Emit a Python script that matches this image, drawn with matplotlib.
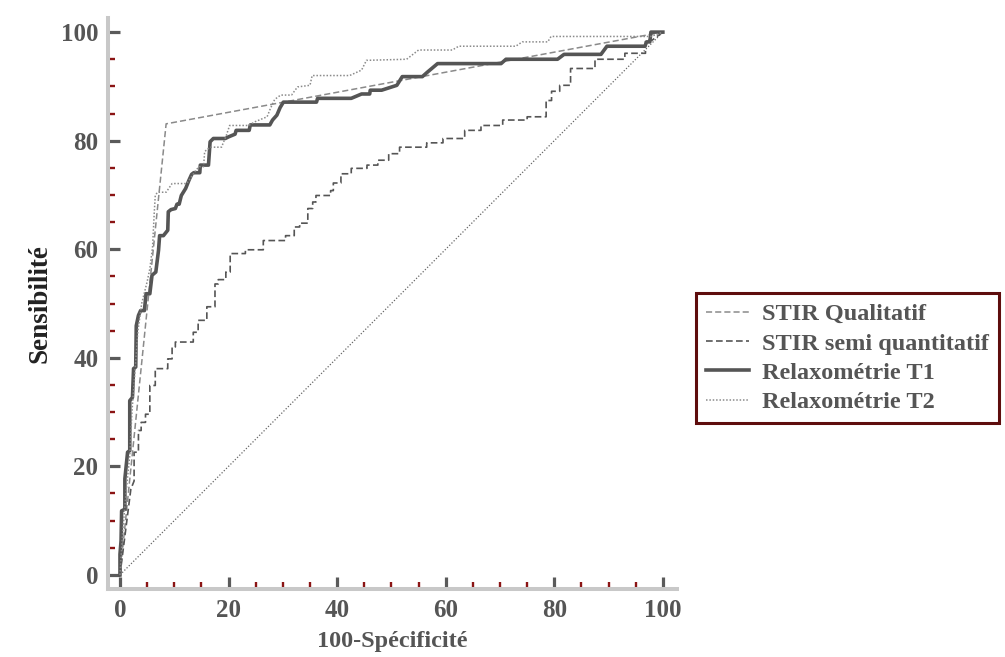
import matplotlib
matplotlib.use("Agg")
import matplotlib.pyplot as plt
from matplotlib.ticker import MultipleLocator

plt.rcParams['font.family'] = ['Liberation Serif', 'DejaVu Serif']
plt.rcParams['font.weight'] = 'bold'

# ---- data ----
qual_x = [0, 8.5, 100]
qual_y = [0, 83.1, 100]

semi_x = [0, 2.0, 2.6, 2.6, 3.4, 3.4, 3.9, 3.9, 4.7, 4.7, 5.5, 5.5, 6.5, 6.5, 8.8, 8.8, 9.6, 9.6,
          10.2, 10.2, 13.5, 13.5, 14.4, 14.4, 16.0, 16.0, 17.5, 17.5, 18.1, 18.1, 19.5, 19.5, 20.3, 20.3,
          23.1, 23.1, 26.4, 26.4, 30.5, 30.5, 32.1, 32.1, 33.1, 33.1, 34.6, 34.6, 35.5, 35.5, 36.1, 36.1,
          38.8, 38.8, 39.3, 39.3, 40.7, 40.7, 42.6, 42.6, 45.5, 45.5, 47.5, 47.5, 49.5, 49.5, 51.5, 51.5,
          56.5, 56.5, 59.5, 59.5, 63.5, 63.5, 66.5, 66.5, 70.5, 70.5, 75.0, 75.0, 78.5, 78.5, 79.5, 79.5,
          81.0, 81.0, 83.0, 83.0, 87.5, 87.5, 93.0, 93.0, 96.8, 96.8, 98.0, 100]
semi_y = [0, 15.8, 17.3, 22.6, 22.6, 26.6, 26.6, 28.1, 28.1, 29.6, 29.6, 34.9, 34.9, 38.0, 38.0, 39.8, 39.8, 42.0,
          42.0, 42.9, 42.9, 44.7, 44.7, 46.9, 46.9, 49.4, 49.4, 53.6, 53.6, 54.4, 54.4, 55.8, 55.8, 59.2,
          59.2, 59.9, 59.9, 61.6, 61.6, 62.5, 62.5, 64.1, 64.1, 64.8, 64.8, 67.5, 67.5, 68.7, 68.7, 69.9,
          69.9, 70.8, 70.8, 72.2, 72.2, 73.9, 73.9, 74.9, 74.9, 75.5, 75.5, 76.4, 76.4, 77.6, 77.6, 78.8,
          78.8, 79.6, 79.6, 80.4, 80.4, 81.9, 81.9, 82.8, 82.8, 83.8, 83.8, 84.4, 84.4, 87.4, 87.4, 89.1,
          89.1, 90.2, 90.2, 93.3, 93.3, 95.0, 95.0, 96.1, 96.1, 98.5, 98.5, 100]

t1_x = [0, 0, 0.2, 0.3, 0.9, 0.9, 1.4, 1.8, 1.8, 2.3, 2.5, 2.9, 3.0, 3.4, 3.8, 4.5, 4.8, 5.5, 5.9, 6.6,
        7.1, 7.3, 8.0, 8.8, 8.9, 9.4, 10.2, 10.5, 10.9, 11.3, 12.1, 12.7, 13.2, 13.6, 14.7, 14.8, 16.3,
        16.6, 17.2, 19.4, 20.0, 21.2, 21.4, 23.8, 24.0, 27.6, 28.1, 28.9, 29.5, 30.1, 36.2, 36.4, 42.6,
        44.5, 46.0, 46.1, 48.2, 51.0, 52.0, 55.7, 56.6, 58.5, 70.2, 71.1, 80.6, 81.8, 88.6, 89.7, 96.7,
        97.0, 97.6, 97.8, 100]
t1_y = [0, 3.8, 6.3, 11.8, 12.1, 17.7, 22.6, 22.9, 32.1, 32.7, 38.0, 38.3, 45.9, 47.8, 48.7, 48.7, 51.8,
        51.8, 55.2, 55.8, 59.8, 62.5, 62.5, 63.5, 66.9, 67.3, 67.5, 68.3, 68.3, 69.9, 71.2, 72.7, 73.8,
        74.1, 74.1, 75.5, 75.5, 79.8, 80.4, 80.4, 80.7, 81.2, 81.9, 81.9, 82.9, 82.9, 83.8, 84.7, 86.1,
        87.1, 87.1, 87.8, 87.8, 88.6, 88.6, 89.3, 89.3, 90.2, 91.8, 91.8, 92.6, 94.2, 94.2, 95.0, 95.0,
        95.9, 95.9, 97.4, 97.4, 98.2, 98.2, 100, 100]

t2_x = [0, 0.5, 1.2, 1.8, 2.2, 2.8, 3.3, 4.0, 5.0, 5.5, 6.0, 6.3, 6.5, 6.9, 8.5, 9.6, 12.3, 13.2, 14.1,
        14.6, 15.4, 15.6, 16.6, 18.7, 19.6, 20.2, 23.7, 24.9, 27.1, 27.7, 28.5, 29.6, 31.6, 32.7, 35.0,
        35.4, 42.3, 44.5, 45.4, 52.8, 55.0, 61.2, 62.4, 72.9, 74.1, 78.8, 79.4, 97.8, 100]
t2_y = [0, 8, 16, 22, 30, 38, 45, 50, 54, 56.4, 60.4, 66.5, 69.9, 70.5, 70.5, 72.1, 72.1, 73.4, 74.7,
        75.2, 75.2, 78.0, 78.8, 78.8, 81.0, 82.8, 82.8, 83.5, 84.4, 85.9, 87.6, 88.4, 88.4, 89.9, 90.2,
        92.0, 92.0, 93.0, 94.8, 95.0, 96.7, 96.7, 97.4, 97.4, 98.2, 98.2, 99.2, 99.2, 100]

diag_x = [0, 100]
diag_y = [0, 100]

labels = ["STIR Qualitatif", "STIR semi quantitatif", "Relaxométrie T1", "Relaxométrie T2"]
major_ticks = [0, 20, 40, 60, 80, 100]

# ---- figure ----
fig = plt.figure(figsize=(10.05, 6.57), dpi=100)
ax = fig.add_axes([0.1075, 0.1035, 0.5661, 0.8691])

grey = '#555555'
ax.plot(diag_x, diag_y, linestyle=(0, (1, 1.5)), color='#666666', lw=0.9)
l1, = ax.plot(qual_x, qual_y, linestyle=(0, (4, 2)), color='#8a8a8a', lw=1.1)
l2, = ax.plot(semi_x, semi_y, linestyle=(0, (4, 2)), color='#555555', lw=1.2)
l3, = ax.plot(t1_x, t1_y, linestyle='-', color='#555555', lw=2.6)
l4, = ax.plot(t2_x, t2_y, linestyle=(0, (1, 1.2)), color='#8a8a8a', lw=1.1)

ax.set_xlim(-2.2, 102.6)
ax.set_ylim(-2.6, 102.6)

for s in ['top', 'right']:
    ax.spines[s].set_visible(False)
for s in ['left', 'bottom']:
    ax.spines[s].set_color('#c8c8c8')
    ax.spines[s].set_linewidth(2.9)

ax.set_xticks(major_ticks)
ax.set_yticks(major_ticks)
ax.xaxis.set_minor_locator(MultipleLocator(5))
ax.yaxis.set_minor_locator(MultipleLocator(5))
ax.tick_params(which='major', direction='in', length=8.6, width=2.3, color='#5a5a5a',
               labelsize=18, labelcolor=grey, pad=7)
ax.tick_params(which='minor', direction='in', length=5, width=1.7, color='#8b1414')
for lab in ax.get_xticklabels() + ax.get_yticklabels():
    lab.set_fontweight('bold')

ax.set_xlabel("100-Spécificité", fontsize=17.5, fontweight='bold', color=grey, labelpad=7)
ax.set_ylabel("Sensibilité", fontsize=19.5, fontweight='bold', color='#222222', labelpad=6)

leg = fig.legend([l1, l2, l3, l4], labels, loc='upper left',
                 bbox_to_anchor=(696/1005, 1 - 293/657), frameon=True, fancybox=False,
                 framealpha=1,
                 prop={'family': 'Liberation Serif', 'weight': 'bold', 'size': 17.5},
                 handlelength=1.75, handletextpad=0.55, labelspacing=0.3, borderpad=0.42,
                 borderaxespad=0)
for t in leg.get_texts():
    t.set_color(grey)
fr = leg.get_frame()
fr.set_edgecolor('#5e0d0d')
fr.set_linewidth(2.2)

fig.savefig("out.png", dpi=100)
